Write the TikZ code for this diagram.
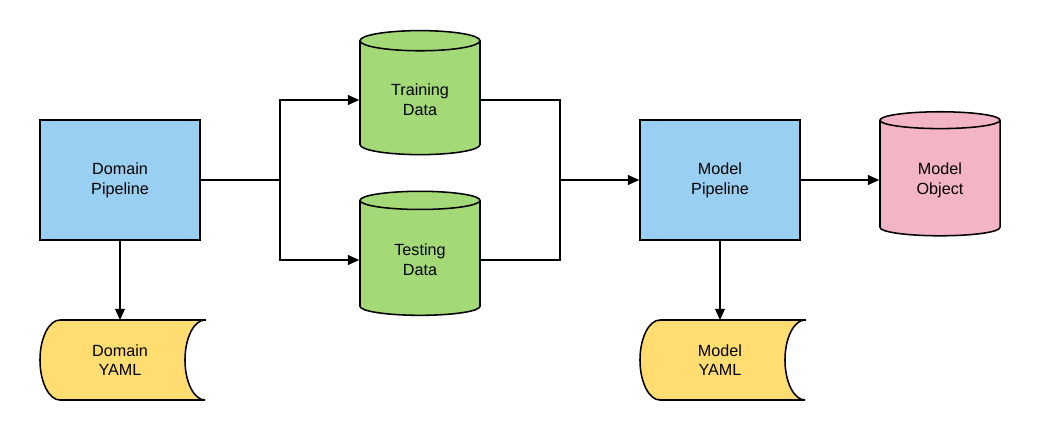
\documentclass[tikz,border=0pt]{standalone}
\usepackage{fontspec}
\setmainfont{Liberation Sans}
\usetikzlibrary{shapes.geometric, positioning, arrows.meta}
\definecolor{pipeblue}{RGB}{153,208,242}
\definecolor{datagreen}{RGB}{163,217,119}
\definecolor{objpink}{RGB}{243,180,198}
\definecolor{yamlyellow}{RGB}{255,221,113}

\begin{document}
\begin{tikzpicture}[x=0.025cm, y=-0.025cm, line width=1.1pt, font=\fontsize{11.5}{14}\selectfont,
  pipe/.style={draw, fill=pipeblue, minimum width=4cm, minimum height=3cm, align=center},
  store/.style={draw, cylinder, shape border rotate=90, aspect=0.3, minimum width=3cm, minimum height=3.1cm, align=center},
  link/.style={-{Triangle[length=8pt, width=7pt]}}]
  \useasboundingbox (0,0) rectangle (1040,440);
  \newcommand\yamlshape[2]{% center x, center y
    \draw[fill=yamlyellow] (#1+85,#2-40) -- (#1-60,#2-40) arc[start angle=90, end angle=270, x radius=0.5cm, y radius=1cm]
      -- (#1+85,#2+40) arc[start angle=270, end angle=90, x radius=0.5cm, y radius=1cm] -- cycle;}

  \node[pipe] (dompipe) at (120,180) {Domain\\Pipeline};
  \node[store, fill=datagreen] (train) at (420,100) {Training\\Data};
  \node[store, fill=datagreen] (test) at (420,260) {Testing\\Data};
  \node[pipe] (modpipe) at (720,180) {Model\\Pipeline};
  \node[store, fill=objpink] (modobj) at (940,180) {Model\\Object};

  \yamlshape{120}{360}
  \node[align=center] (domyaml) at (120,360) {Domain\\YAML};
  \yamlshape{720}{360}
  \node[align=center] (modyaml) at (720,360) {Model\\YAML};

  \coordinate (split) at (280,180);
  \coordinate (join) at (560,180);
  \draw (dompipe.east) -- (split);
  \draw[link] (split) |- (train.west);
  \draw[link] (split) |- (test.west);
  \draw (train.east) -| (join);
  \draw (test.east) -| (join);
  \draw[link] (join) -- (modpipe.west);
  \draw[link] (modpipe.east) -- (modobj.west);
  \draw[link] (dompipe.south) -- (domyaml.north |- 0,320);
  \draw[link] (modpipe.south) -- (modyaml.north |- 0,320);
\end{tikzpicture}
\end{document}
